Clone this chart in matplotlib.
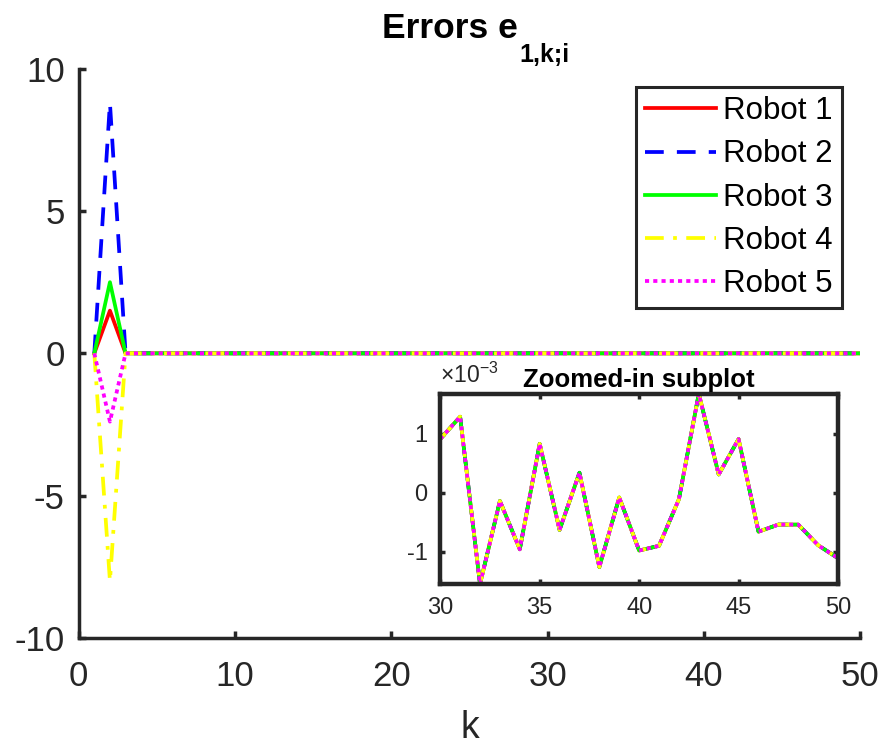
import numpy as np
import matplotlib
matplotlib.use("Agg")
import matplotlib.pyplot as plt
from matplotlib.ticker import FuncFormatter

plt.rcParams['font.family'] = ['Liberation Sans', 'DejaVu Sans']
plt.rcParams['mathtext.fontset'] = 'custom'
plt.rcParams['mathtext.rm'] = 'Liberation Sans'
plt.rcParams['mathtext.bf'] = 'Liberation Sans:bold'
plt.rcParams['axes.unicode_minus'] = False

# ---- data ----
k = np.arange(1, 51)
robots = ["Robot 1", "Robot 2", "Robot 3", "Robot 4", "Robot 5"]
peak_k2 = [1.5, 8.8, 2.5, -8.0, -2.4]          # error at k = 2
start_k1 = 0.0                                   # error at k = 1
settled_k3_29 = [0.0] * 27                       # k = 3 .. 29 (settled near zero)
tail_k30_50 = [0.91e-3, 1.29e-3, -1.55e-3, -0.14e-3, -0.96e-3, 0.83e-3,
               -0.63e-3, 0.34e-3, -1.26e-3, -0.08e-3, -0.98e-3, -0.90e-3,
               -0.11e-3, 1.68e-3, 0.31e-3, 0.91e-3, -0.66e-3, -0.54e-3,
               -0.54e-3, -0.89e-3, -1.11e-3]    # k = 30 .. 50, same for all robots

colors = ["#ff0000", "#0000ff", "#00ff00", "#ffff00", "#ff00ff"]
dashes = [None, (5, 3.5), None, (5, 2.5, 1, 2.5), (1.1, 1.1)]

series = [np.array([start_k1, p] + settled_k3_29 + tail_k30_50) for p in peak_k2]

axis_col = "#262626"

fig = plt.figure(figsize=(8.84, 7.47), dpi=100)
ax = fig.add_axes([0.089, 0.146, 0.884, 0.762])

for y, lab, c, d in zip(series, robots, colors, dashes):
    line, = ax.plot(k, y, color=c, lw=2.7, label=lab)
    if d is not None:
        line.set_dashes(d)

ax.set_xlim(0, 50)
ax.set_ylim(-10, 10)
ax.set_xticks([0, 10, 20, 30, 40, 50])
ax.set_yticks([-10, -5, 0, 5, 10])
for s in ["top", "right"]:
    ax.spines[s].set_visible(False)
for s in ["left", "bottom"]:
    ax.spines[s].set_color(axis_col)
    ax.spines[s].set_linewidth(2.5)
ax.tick_params(direction="in", length=5, width=2.5, colors=axis_col,
               labelsize=25)
ax.tick_params(axis="y", pad=10)
ax.tick_params(axis="x", pad=16)
ax.set_xlabel("k", fontsize=27, color=axis_col, labelpad=12)

leg = ax.legend(loc="upper right", bbox_to_anchor=(0.977, 0.968),
                borderaxespad=0, fontsize=22.5, handlelength=2.27,
                handletextpad=0.22, labelspacing=0.42, borderpad=0.3,
                fancybox=False, framealpha=1)
leg.get_frame().set_edgecolor(axis_col)
leg.get_frame().set_linewidth(2.2)

# title with lowered bold subscript
fig.text(0.586, 0.949, "Errors e", fontsize=25.5, fontweight="bold",
         ha="right", va="baseline")
fig.text(0.588, 0.917, "1,k;i", fontsize=18, fontweight="bold",
         ha="left", va="baseline")

# ---- zoomed-in inset ----
axi = fig.add_axes([0.498, 0.218, 0.450, 0.255])
for y, c, d in zip(series, colors, dashes):
    line, = axi.plot(k[29:], y[29:], color=c, lw=2.6)
    if d is not None:
        line.set_dashes(d)
axi.set_xlim(30, 50)
axi.set_ylim(min(tail_k30_50), max(tail_k30_50))
axi.set_xticks([30, 35, 40, 45, 50])
axi.set_yticks([-1e-3, 0, 1e-3])
axi.yaxis.set_major_formatter(FuncFormatter(lambda v, p: f"{v * 1e3:.0f}"))
for s in axi.spines.values():
    s.set_color(axis_col)
    s.set_linewidth(3.2)
axi.tick_params(direction="in", length=3.5, width=2.5, colors=axis_col,
                labelsize=17, pad=9, top=True, right=True)
axi.set_title("Zoomed-in subplot", fontsize=18.5, fontweight="bold", pad=5)
axi.text(0.0, 1.03, r"$\times$10$^{-3}$", transform=axi.transAxes,
         fontsize=16.5, color=axis_col, ha="left", va="bottom")

fig.savefig("out.png", dpi=100)
